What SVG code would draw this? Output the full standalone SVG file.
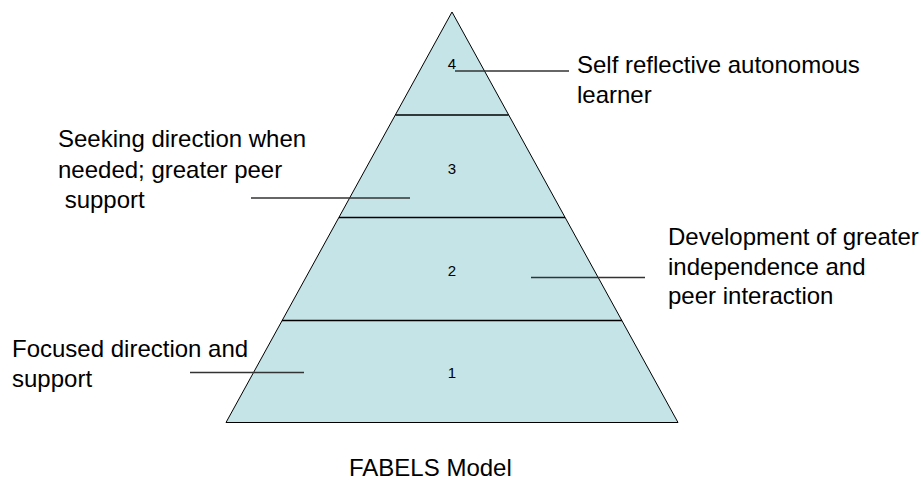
<svg xmlns="http://www.w3.org/2000/svg" width="923" height="487" viewBox="0 0 923 487">
<style>
.lbl{font-family:"Liberation Sans",Arial,sans-serif;font-size:24px;fill:#000}
.num{font-family:"Liberation Sans",Arial,sans-serif;font-size:15px;fill:#000;text-anchor:middle}
.div{stroke:#000;stroke-width:1.3}
.con{stroke:#333;stroke-width:1.3}
</style>
<rect width="923" height="487" fill="#fff"/>
<g id="pyramid">
<polygon points="452,12 226,422.5 678,422.5" fill="#C4E4E8" stroke="#000" stroke-width="1"/>
<line class="div" x1="395.5" y1="115" x2="508.5" y2="115"/>
<line class="div" x1="339" y1="217.5" x2="565" y2="217.5"/>
<line class="div" x1="282" y1="320.5" x2="622" y2="320.5"/>
</g>
<g id="level4"><text class="num" x="452" y="69">4</text></g>
<g id="level3"><text class="num" x="452" y="174">3</text></g>
<g id="level2"><text class="num" x="452" y="276">2</text></g>
<g id="level1"><text class="num" x="452" y="378">1</text></g>
<g id="label4"><text class="lbl" x="577" y="73">Self reflective autonomous</text><text class="lbl" x="577" y="103">learner</text></g>
<g id="label3"><text class="lbl" x="58" y="147">Seeking direction when</text><text class="lbl" x="58" y="178">needed; greater peer</text><text class="lbl" x="58" y="208" xml:space="preserve"> support</text></g>
<g id="label2"><text class="lbl" x="668" y="245">Development of greater</text><text class="lbl" x="668" y="275">independence and</text><text class="lbl" x="668" y="304">peer interaction</text></g>
<g id="label1"><text class="lbl" x="12" y="357">Focused direction and</text><text class="lbl" x="12" y="387">support</text></g>
<g id="connectors">
<line class="con" x1="455" y1="71" x2="569" y2="71"/>
<line class="con" x1="251" y1="198" x2="410" y2="198"/>
<line class="con" x1="531" y1="277.5" x2="645" y2="277.5"/>
<line class="con" x1="190" y1="372.5" x2="304" y2="372.5"/>
</g>
<g id="title"><text class="lbl" x="349" y="476">FABELS Model</text></g>
</svg>
